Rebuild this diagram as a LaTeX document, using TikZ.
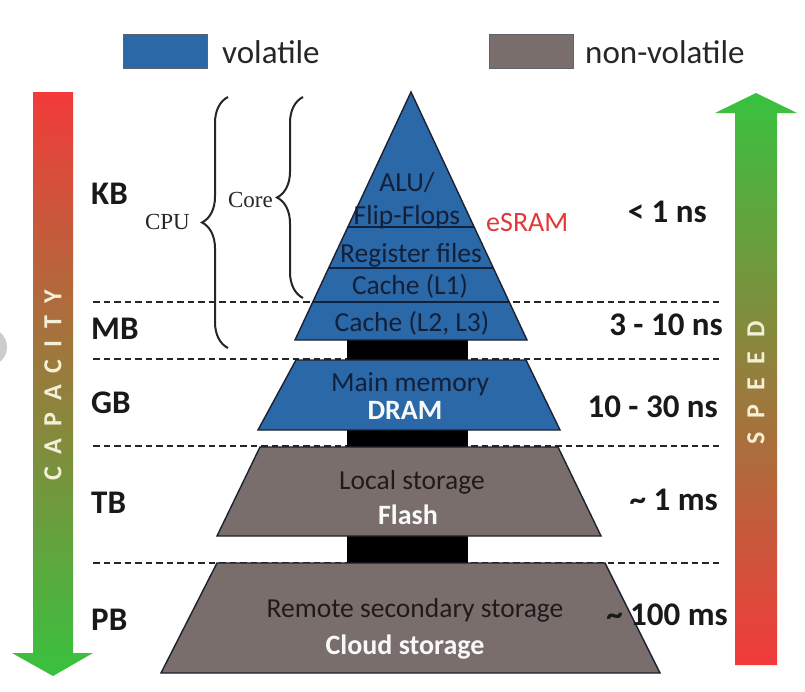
\documentclass[tikz,border=0pt]{standalone}
\usepackage{fontspec}
\setmainfont{Carlito}
\newfontfamily\cpuserif{Liberation Serif}
\usetikzlibrary{decorations.pathreplacing,calc}
\definecolor{volblue}{HTML}{2A68A8}
\definecolor{nvgrey}{HTML}{7A6E6D}
\definecolor{edgedark}{HTML}{1C2030}
\definecolor{navytext}{HTML}{12203A}
\definecolor{greytext}{HTML}{201A1A}
\definecolor{capred}{HTML}{F23A3A}
\definecolor{capgreen}{HTML}{38C23E}
\definecolor{esramred}{HTML}{E2383A}
\definecolor{captext}{HTML}{F4F0D8}
\tikzset{
  sizelbl/.style={font=\fontsize{33}{36}\selectfont\bfseries, anchor=base west, inner sep=0pt, text=black!90},
  timelbl/.style={font=\fontsize{33}{36}\selectfont\bfseries, anchor=base east, inner sep=0pt, text=black!90},
  intext/.style={font=\fontsize{27.5}{30}\selectfont, anchor=base, inner sep=0pt, text=navytext},
  ingrey/.style={intext, text=greytext},
  inwhite/.style={font=\fontsize{28}{30}\selectfont\bfseries, anchor=base, inner sep=0pt, text=white!95!gray},
  legtext/.style={font=\fontsize{33}{36}\selectfont, anchor=base west, inner sep=0pt, text=black!85},
  legbox/.style={draw=edgedark!70, line width=1pt, minimum width=84pt, minimum height=34pt, inner sep=0pt},
  levelline/.style={dash pattern=on 6.5pt off 4pt, line width=2.6pt, draw=black!85},
  tier/.style={draw=edgedark, line width=1.4pt, line join=miter},
  divider/.style={draw=navytext, line width=2pt},
  bracestyle/.style={decorate, decoration={brace, amplitude=26pt}, line width=2pt, draw=black!85},
  serifl/.style={font=\cpuserif\fontsize{23}{25}\selectfont, anchor=base east, inner sep=0pt, text=black!85},
  verttext/.style={rotate=90, font=\fontsize{26}{28}\selectfont\bfseries, text=captext, inner sep=0pt},
}
\begin{document}
\begin{tikzpicture}[x=1pt,y=-1pt]
\useasboundingbox (0,0) rectangle (805,691);
\fill[white] (0,0) rectangle (805,691);
\fill[gray!40] (-12,347) circle (19);

% legend
\node[legbox, fill=volblue] (legvol) at (165,51) {};
\node[legtext] (legvoltxt) at (222,63) {volatile};
\node[legbox, fill=nvgrey] (legnv) at (531,51) {};
\node[legtext] (legnvtxt) at (585,63) {non-volatile};

% capacity and speed arrows
\shade[top color=capred, bottom color=capgreen] (33,92) -- (73,92) -- (73,653) -- (93,653) -- (53,676) -- (12,653) -- (33,653) -- cycle;
\node[verttext] (captxt) at (53,385) {C\kern12pt A\kern12pt P\kern12pt A\kern12pt C\kern12pt I\kern12pt T\kern12pt Y};
\shade[top color=capgreen, bottom color=capred] (756,93) -- (797,113) -- (777,113) -- (777,665) -- (735,665) -- (735,113) -- (715,113) -- cycle;
\node[verttext] (spdtxt) at (756,383) {S\kern14pt P\kern14pt E\kern14pt E\kern14pt D};

% level lines
\draw[levelline] (93,302) -- (720,302);
\draw[levelline] (93,359) -- (720,359);
\draw[levelline] (93,446) -- (720,446);
\draw[levelline] (93,563) -- (720,563);

% black connector column
\fill[black] (347,338) rectangle (468,565);

% pyramid top
\coordinate (apex) at (411,92);
\coordinate (bl) at (295,340);
\coordinate (br) at (527,340);
\filldraw[tier, fill=volblue] (apex) -- (br) -- (bl) -- cycle;
\draw[divider] ($(apex)!0.5444!(bl)$) -- ($(apex)!0.5444!(br)$);
\draw[divider] ($(apex)!0.7097!(bl)$) -- ($(apex)!0.7097!(br)$);
\draw[divider, line width=1.5pt] ($(apex)!0.8468!(bl)$) -- ($(apex)!0.8468!(br)$);

% lower tiers
\filldraw[tier, fill=volblue] (296,360) -- (526,360) -- (560,430) -- (258,430) -- cycle;
\filldraw[tier, fill=nvgrey] (260,447) -- (558,447) -- (601,536) -- (217,536) -- cycle;
\filldraw[tier, fill=nvgrey] (217,563) -- (605,563) -- (660,673) -- (161,673) -- cycle;

% pyramid texts
\node[intext] (alu) at (407,191) {ALU/};
\node[intext] (ff) at (407,224) {Flip-Flops};
\node[intext] (reg) at (411,262) {Register files};
\node[intext] (l1) at (410,294) {Cache (L1)};
\node[intext] (l23) at (412,331) {Cache (L2, L3)};
\node[intext] (mm) at (410,391) {Main memory};
\node[inwhite] (dram) at (405,419) {DRAM};
\node[ingrey] (ls) at (412,489) {Local storage};
\node[inwhite] (flash) at (408,524) {Flash};
\node[ingrey] (rss) at (415,617) {Remote secondary storage};
\node[inwhite] (cloud) at (405,654) {Cloud storage};
\node[font=\fontsize{28}{30}\selectfont, anchor=base west, inner sep=0pt, text=esramred] (esram) at (486,231) {eSRAM};

% size labels
\node[sizelbl] (kb) at (91,204) {KB};
\node[sizelbl] (mb) at (91,339) {MB};
\node[sizelbl] (gb) at (91,413) {GB};
\node[sizelbl] (tb) at (91,513) {TB};
\node[sizelbl] (pb) at (91,630) {PB};

% time labels
\node[timelbl] (t1) at (707,222) {< 1 ns};
\node[timelbl] (t2) at (723,335) {3 - 10 ns};
\node[timelbl] (t3) at (718,417) {10 - 30 ns};
\node[timelbl] (t4) at (718,510) {\textasciitilde{} 1 ms};
\node[timelbl] (t5) at (728,625) {\textasciitilde{} 100 ms};

% braces
\draw[bracestyle] (228,348) -- (228,97);
\draw[bracestyle] (303,298) -- (303,97);
\node[serifl] (cpu) at (190,229) {CPU};
\node[serifl] (core) at (273,207) {Core};
\end{tikzpicture}
\end{document}
